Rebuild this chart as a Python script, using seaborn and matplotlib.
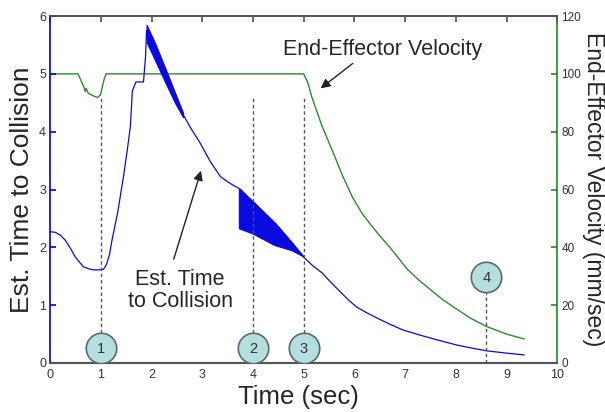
import numpy as np
import seaborn as sns
import matplotlib.pyplot as plt

# Estimated time to collision (left axis, sec)
ttc_time = [0.0, 0.1, 0.2, 0.3, 0.4, 0.49, 0.58, 0.66, 0.76, 0.85, 0.96, 1.05, 1.11,
            1.17, 1.22, 1.33, 1.45, 1.53, 1.58, 1.62, 1.69, 1.84, 1.88, 1.9, 2.06, 2.26,
            2.46, 2.62, 2.76, 2.96, 3.16, 3.36, 3.56, 3.76, 3.96, 4.2, 4.47, 4.75, 5.0,
            5.18, 5.36, 5.53, 5.7, 5.87, 6.04, 6.24, 6.44, 6.7, 6.96, 7.3, 7.63, 8.02,
            8.3, 8.61, 9.0, 9.35]
ttc_value = [2.27, 2.26, 2.21, 2.12, 1.98, 1.84, 1.74, 1.66, 1.63, 1.61, 1.61, 1.62, 1.7,
             1.88, 2.13, 2.6, 3.25, 3.75, 4.08, 4.7, 4.86, 4.86, 5.3, 5.75, 5.4, 5.0,
             4.6, 4.3, 4.08, 3.8, 3.48, 3.22, 3.1, 3.0, 2.82, 2.62, 2.39, 2.1, 1.83,
             1.68, 1.56, 1.4, 1.25, 1.1, 0.97, 0.87, 0.78, 0.67, 0.57, 0.48, 0.40, 0.31,
             0.26, 0.21, 0.17, 0.14]

# noisy parts of the estimate (band between envelopes)
noise1_time = [1.9, 2.06, 2.26, 2.46, 2.62]
noise1_low = [5.55, 5.25, 4.87, 4.5, 4.25]
noise1_high = [5.85, 5.55, 5.12, 4.68, 4.33]
noise2_time = [3.72, 3.99, 4.42, 4.76, 5.0]
noise2_low = [2.33, 2.24, 2.04, 1.95, 1.84]
noise2_high = [3.01, 2.8, 2.43, 2.09, 1.84]

# End-effector velocity (right axis, mm/sec)
vel_time = [0.0, 0.55, 0.66, 0.69, 0.71, 0.75, 0.85, 0.93, 0.99, 1.06, 1.1, 5.0, 5.08,
            5.16, 5.36, 5.56, 5.76, 5.96, 6.16, 6.36, 6.5, 6.7, 7.04, 7.25, 7.49, 7.75,
            8.02, 8.3, 8.61, 9.0, 9.35]
vel_value = [100, 100, 95.6, 93.9, 95.0, 93.3, 92.4, 91.8, 92.7, 97.9, 100, 100, 97,
             92, 82, 73.7, 65, 57.4, 51.5, 47, 44, 40, 32.5, 29, 25.5, 21.8,
             18.6, 15.4, 12.6, 10.0, 8.3]

# numbered events
event_time = [1, 4, 5, 8.6]
event_y = [0.26, 0.26, 0.26, 1.49]
event_label = ["1", "2", "3", "4"]
guide_low = [0.52, 0.52, 0.52, 0.0]
guide_high = [4.6, 4.6, 4.6, 1.23]

sns.set_theme(style="white")
plt.rcParams['font.family'] = ['Liberation Sans', 'DejaVu Sans']

fig, ax = plt.subplots(figsize=(6.05, 4.12), dpi=100)
fig.subplots_adjust(left=0.083, right=0.921, bottom=0.119, top=0.961)
ax2 = ax.twinx()

blue = "#0a0ae0"
green = "#2a8c2a"
gray = "#555555"

sns.lineplot(x=vel_time, y=vel_value, ax=ax2, color=green, linewidth=1.0)
sns.lineplot(x=ttc_time, y=ttc_value, ax=ax, color=blue, linewidth=0.9)
ax.fill_between(noise1_time, noise1_low, noise1_high, color=blue, linewidth=0.8)
ax.fill_between(noise2_time, noise2_low, noise2_high, color=blue, linewidth=0.8)

ax.vlines(event_time, guide_low, guide_high, colors="#555555", linestyles=(0, (2.5, 2)),
          linewidth=1.0, zorder=3)
sns.scatterplot(x=event_time, y=event_y, ax=ax, s=480, color="#b5dfdf",
                edgecolor="#5a6a6a", linewidth=1.2, zorder=5)
for t, y, lab in zip(event_time, event_y, event_label):
    ax.text(t, y - 0.02, lab, ha="center", va="center", fontsize=10.5, color="#333333", zorder=6)

# annotations
ax.text(6.55, 5.42, "End-Effector Velocity", ha="center", va="center", fontsize=15.5)
ax.annotate("", xy=(5.29, 4.72), xytext=(6.01, 5.21),
            arrowprops=dict(arrowstyle="-|>", color="#222222", lw=1.0, mutation_scale=14))
ax.text(2.56, 1.26, "Est. Time\nto Collision", ha="center", va="center", fontsize=15.5,
        linespacing=1.05)
ax.annotate("", xy=(2.99, 3.37), xytext=(2.42, 1.75),
            arrowprops=dict(arrowstyle="-|>", color="#222222", lw=1.0, mutation_scale=14))

ax.set_xlim(0, 10)
ax.set_ylim(0, 6)
ax2.set_ylim(0, 120)
ax.set_xticks(range(0, 11))
ax.set_yticks(range(0, 7))
ax2.set_yticks(range(0, 121, 20))

ax.set_zorder(ax2.get_zorder() + 1)
ax.patch.set_visible(False)

ax.set_xlabel("Time (sec)", fontsize=18.5)
ax.set_ylabel("Est. Time to Collision", fontsize=19)
ax2.set_ylabel("End-Effector Velocity (mm/sec)", fontsize=16.5, rotation=-90)
for lab in (ax.xaxis.label, ax.yaxis.label, ax2.yaxis.label):
    lab.set(rotation_mode="default", ha="center", va="center")
ax.xaxis.set_label_coords(0.49, -0.097)
ax.yaxis.set_label_coords(-0.055, 0.5)
ax2.yaxis.set_label_coords(1.071, 0.5)

ax.tick_params(axis="both", direction="in", length=4, labelsize=9, colors=gray,
               labelcolor="#333333", top=True, pad=3)
ax.tick_params(axis="x", pad=4)
ax.tick_params(axis="y", colors=blue, labelcolor="#333333")
ax2.tick_params(axis="y", direction="in", length=4, labelsize=8.5, colors=green,
                labelcolor="#333333", pad=3)

for a in (ax, ax2):
    a.spines["top"].set_color(gray)
    a.spines["bottom"].set_color(gray)
    a.spines["bottom"].set_linewidth(1.5)
ax.spines["left"].set_color(blue)
ax.spines["right"].set_visible(False)
ax2.spines["left"].set_visible(False)
ax2.spines["right"].set_color(green)

plt.savefig("out.png", dpi=100)
